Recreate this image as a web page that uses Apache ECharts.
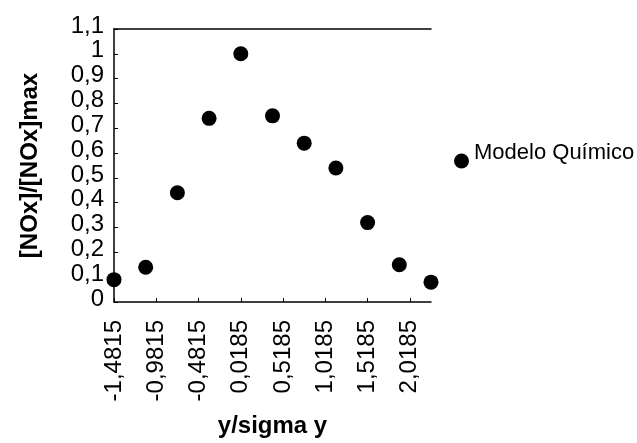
<!DOCTYPE html>
<html>
<head>
<meta charset="utf-8">
<script src="https://cdn.jsdelivr.net/npm/echarts@6/dist/echarts.min.js"></script>
<style>
  html, body { margin: 0; padding: 0; background: #fff; }
  #chart { width: 637px; height: 443px; }
</style>
</head>
<body>
<div id="chart"></div>
<script>
// Normalised NOx concentration across the plume (y / sigma y)
const yOverSigma = [-1.4815, -1.1065, -0.7315, -0.3565, 0.0185, 0.3935, 0.7685, 1.1435, 1.5185, 1.8935, 2.2685];
const noxRatio   = [0.09, 0.14, 0.44, 0.74, 1.0, 0.75, 0.64, 0.54, 0.32, 0.15, 0.08];
const seriesName = 'Modelo Químico';

// Axis starts at the first sample; ticks every 0.5 from there
const X_ORIGIN = -1.4815;
const X_SPAN = 3.75;
const X_STEP = 0.5;

const FONT = '"Liberation Sans", Arial, sans-serif';
const comma = (v, d) => v.toFixed(d).replace('.', ',');

const chart = echarts.init(document.getElementById('chart'), null, { renderer: 'canvas' });

chart.setOption({
  animation: false,
  backgroundColor: '#fff',
  textStyle: { fontFamily: FONT, color: '#000' },
  grid: { left: 114, right: 206, top: 29, bottom: 140 },
  legend: {
    left: 449,
    top: 137,
    orient: 'vertical',
    icon: 'circle',
    itemWidth: 15,
    itemHeight: 15,
    itemGap: 9,
    formatter: name => '{t|' + name + '}',
    textStyle: {
      fontFamily: FONT, fontSize: 22, color: '#000',
      rich: { t: { fontFamily: FONT, fontSize: 22, color: '#000', padding: [0, 0, 16, 0] } }
    },
    data: [seriesName]
  },
  xAxis: [{
    type: 'value',
    min: 0,
    max: X_SPAN,
    interval: X_STEP,
    name: 'y/sigma y',
    nameLocation: 'middle',
    nameGap: 112,
    nameTextStyle: { fontFamily: FONT, fontSize: 24, fontWeight: 'bold', color: '#000' },
    axisLine: { lineStyle: { color: '#000', width: 1.5 } },
    axisTick: { show: true, inside: true, length: 4, lineStyle: { color: '#000' } },
    splitLine: { show: false },
    axisLabel: {
      rotate: 90,
      margin: 18,
      fontFamily: FONT,
      fontSize: 24,
      color: '#000',
      showMaxLabel: false,
      formatter: v => comma(v + X_ORIGIN, 4)
    }
  }, {
    type: 'value',
    position: 'top',
    min: 0,
    max: X_SPAN,
    axisLine: { show: true, lineStyle: { color: '#000', width: 1.5 } },
    axisTick: { show: false },
    axisLabel: { show: false },
    splitLine: { show: false }
  }],
  yAxis: {
    type: 'value',
    min: 0,
    max: 1.1,
    interval: 0.1,
    name: '[NOx]/[NOx]max',
    nameLocation: 'middle',
    nameRotate: 90,
    nameGap: 72,
    nameTextStyle: { fontFamily: FONT, fontSize: 24, fontWeight: 'bold', color: '#000' },
    axisLine: { show: true, lineStyle: { color: '#000', width: 1.5 } },
    axisTick: { show: true, inside: true, length: 4, lineStyle: { color: '#000' } },
    splitLine: { show: false },
    axisLabel: {
      margin: 10,
      fontFamily: FONT,
      fontSize: 24,
      color: '#000',
      formatter: v => {
        const r = Math.round(v * 10) / 10;
        return '{t|' + (Number.isInteger(r) ? String(r) : comma(r, 1)) + '}';
      },
      rich: { t: { fontFamily: FONT, fontSize: 24, color: '#000', padding: [0, 0, 6, 0] } }
    }
  },
  series: [{
    name: seriesName,
    type: 'scatter',
    xAxisIndex: 0,
    symbol: 'circle',
    symbolSize: 15,
    itemStyle: { color: '#000', opacity: 1 },
    data: yOverSigma.map((x, i) => [x - X_ORIGIN, noxRatio[i]])
  }]
});
</script>
</body>
</html>
